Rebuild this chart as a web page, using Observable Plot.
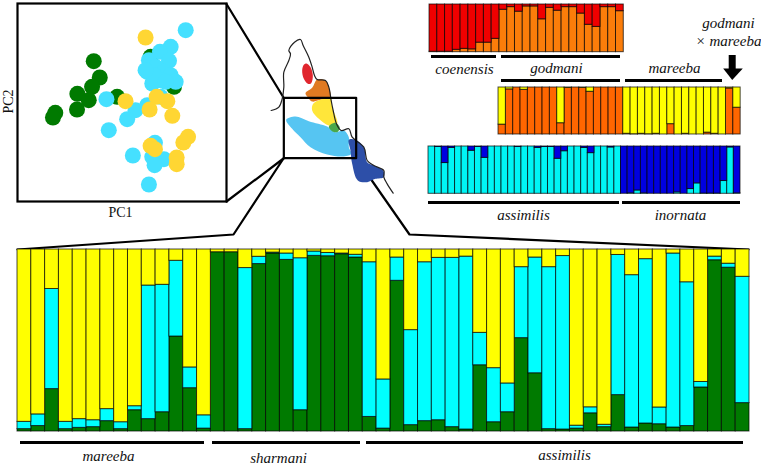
<!DOCTYPE html>
<html><head><meta charset="utf-8">
<script src="https://cdn.jsdelivr.net/npm/d3@7"></script>
<script src="https://cdn.jsdelivr.net/npm/@observablehq/plot@0.6"></script>
<style>
html,body{margin:0;padding:0;background:#fff}
#fig{position:relative;width:761px;height:466px;overflow:hidden}
#fig svg{position:absolute;background:transparent;max-width:none}
</style></head><body><div id="fig"></div>
<script>
// Main structure plot: cluster A (dark green), cluster B (cyan) shares, remainder is cluster C (yellow)
const mainGreen = [.013,.03,.233,.013,.02,.024,.057,.013,.117,.068,.106,.522,.238,.016,.985,.985,.013,.92,.978,.943,.117,.965,.963,.974,.956,.08,.016,.828,.035,.057,.062,.024,.011,.364,.051,.106,.513,.32,.013,.011,.016,.10,.024,.2,.022,.044,.04,.022,.03,.242,.941,.90,.156];
const mainCyan = [.04,.064,.55,.04,.048,.038,.066,.038,.022,.734,.70,.416,.114,.073,0,0,.885,.04,.005,.035,.835,.024,.018,.004,.015,.85,.27,.128,.522,.873,.892,.93,.95,.178,.297,.158,.39,.636,.89,.953,.016,.033,.013,.77,.837,.903,.092,.956,.79,.03,.02,.022,.694];
// Panel: coenensis / godmani
const topOrange = [.01,.01,.01,.05,.07,.06,.2,.2,.28,.89,.945,.85,.96,.96,.69,.93,.87,.945,.945,.81,.575,.53,.945,.945,.86];
// Panel: godmani / mareeba / hybrids
const midOrange = [.21,.96,1,.95,1,1,1,1,.24,.99,1,.99,.91,1,1,1,1,.015,.005,.015,.005,.015,0,.22,0,.015,0,0,.04,.015,0,.98,.57];
// Panel: assimilis / inornata
const lowCyan = [1,.99,.65,.97,1,1,.91,.99,.76,1,1,1,1,.99,1,1,.97,.99,.99,.74,.9,1,1,.97,.86,1,1,.98,1,0,.01,.07,.01,0,0,0,0,.03,0,.1,.22,.005,.005,.005,.27,.98,.01];
// PCA scores (arbitrary units)
const pcGreen = [[228,421],[246,372],[223,344],[179,323],[213,304],[178,276],[113,266],[106,252],[298,314],[398,434],[468,344]];
const pcCyan = [[503,514],[458,464],[426,449],[453,422],[393,424],[388,389],[413,404],[438,389],[458,379],[473,359],[403,354],[428,364],[408,379],[383,394],[443,359],[266,307],[353,274],[328,247],[273,214],[388,289],[428,314],[411,176],[345,138],[403,134],[438,127],[410,109],[393,51]];
const pcYellow = [[383,492],[323,301],[416,314],[448,301],[395,276],[463,257],[510,194],[496,177],[398,167],[411,157],[476,132],[476,112]];
// Map outlines (map units)
const coast = [[152,330],[175,320],[185,295],[190,260],[190,215],[205,180],[210,160],[205,150],[222,125],[240,117],[248,135],[265,170],[275,200],[282,225],[290,237],[315,240],[325,260],[332,300],[338,330],[348,370],[362,390],[385,385],[395,410],[430,440],[440,480],[460,495],[490,510],[490,530],[500,550],[518,578]];
const regionRed = [[258,189],[270,200],[277,225],[272,248],[262,250],[250,235],[245,210],[250,193]];
const regionOrange = [[255,278],[275,262],[290,237],[315,240],[325,260],[330,292],[300,298],[275,303],[262,290]];
const regionYellow = [[278,310],[300,298],[330,295],[335,320],[350,370],[325,375],[295,355],[275,330]];
const regionGreen = [[325,378],[345,367],[358,382],[350,395],[335,392]];
const regionBlue = [[197,358],[225,348],[265,362],[320,378],[345,395],[370,390],[385,410],[385,440],[393,460],[370,468],[320,462],[270,440],[240,410],[215,385]];
const regionNavy = [[385,418],[405,418],[430,440],[440,485],[460,495],[488,510],[490,530],[465,535],[440,545],[412,540],[395,490],[390,450]];
const studyBox = [[190,292],[407,292],[407,473],[190,473],[190,292]];
// Labels
const labels = [
  ["mareeba",108,456],["sharmani",278,458],["assimilis",564,455],
  ["coenensis",464,69],["godmani",556,68],["mareeba",674,68],
  ["assimilis",523,215],["inornata",680,215],
  ["godmani",728,23],["× mareeba",728,41]
];
const brackets = [[20,204,442],[212,360,442],[366,743,442],[431,496,56],[501,620,56],[501,620,80],[625,722,80],[428,619,202],[622,740,202]];
const connectors = [
  [[226,3.5],[283,97]],
  [[226,201],[283,158]],
  [[283,158],[233,234],[17,249]],
  [[356,158],[409,234],[748,249]]
];
const arrowHead = [[722.7,68],[742.3,68],[731.7,79.5]];
const serif = "'Liberation Serif','Times New Roman',serif";
const fig = document.getElementById("fig");

function place(svg,x,y){svg.style.left=x+"px";svg.style.top=y+"px";fig.appendChild(svg);}

// page-level annotation layer
const overlay = Plot.plot({
  width:761,height:466,margin:0,
  x:{domain:[0,761],axis:null},
  y:{domain:[466,0],axis:null},
  marks:[
    ...connectors.map(c=>Plot.line(c,{x:d=>d[0],y:d=>d[1],stroke:"#000",strokeWidth:2.2})),
    Plot.ruleY(brackets,{x1:d=>d[0],x2:d=>d[1],y:d=>d[2],stroke:"#000",strokeWidth:3}),
    Plot.ruleX([731.7],{y1:55,y2:69,stroke:"#000",strokeWidth:7}),
    Plot.line(arrowHead,{x:d=>d[0],y:d=>d[1],fill:"#000",stroke:"none"}),
    Plot.text(labels,{x:d=>d[1],y:d=>d[2],text:d=>d[0],fontFamily:serif,fontStyle:"italic",fontSize:15,fill:"#111"}),
    Plot.text(["PC1"],{x:120,y:212,text:d=>d,fontFamily:serif,fontSize:14,fill:"#111"}),
    Plot.text(["PC2"],{x:8,y:101,rotate:-90,text:d=>d,fontFamily:serif,fontSize:14,fill:"#111"})
  ]
});
place(overlay,0,0);

function structure(x0,y0,w,h,series,colors){
  const n = series[0].length;
  const names = series.map((_,k)=>"cluster"+k);
  const rows = [];
  series.forEach((vals,k)=>vals.forEach((v,i)=>rows.push({i,v,name:names[k]})));
  const svg = Plot.plot({
    width:w+2,height:h+2,margin:1,
    x:{type:"band",domain:d3.range(n),padding:0,round:false,axis:null},
    y:{domain:[0,1],axis:null},
    color:{type:"ordinal",domain:names,range:colors},
    marks:[
      Plot.barY(rows,{x:"i",y:"v",fill:"name",z:"name",stroke:"#000",strokeOpacity:.7,strokeWidth:1})
    ]
  });
  place(svg,x0-1,y0-1);
}
const rest = a => a.map(v=>1-v);
structure(16.7,248.7,732,182,[mainGreen,mainCyan,mainGreen.map((g,i)=>1-g-mainCyan[i])],["#007a00","#00ffff","#ffff00"]);
structure(428.7,4,194.3,47.7,[topOrange,rest(topOrange)],["#fb7d0a","#f00000"]);
structure(498.3,87.3,242.2,47,[midOrange,rest(midOrange)],["#ff6600","#ffff00"]);
structure(428.3,146,312,47.3,[lowCyan,rest(lowCyan)],["#00f5f5","#0000e0"]);

// PCA
const pca = Plot.plot({
  width:213,height:202,margin:2,
  x:{domain:[0,625],axis:null},
  y:{domain:[0,594],axis:null},
  marks:[
    Plot.dot(pcGreen,{x:d=>d[0],y:d=>d[1],r:8,fill:"#007a00"}),
    Plot.dot(pcCyan,{x:d=>d[0],y:d=>d[1],r:8,fill:"#45e0ff"}),
    Plot.dot(pcYellow,{x:d=>d[0],y:d=>d[1],r:8,fill:"#ffd633"}),
    Plot.frame({stroke:"#000",strokeWidth:2.2})
  ]
});
place(pca,15,1.3);

// Map
const region = (pts,c)=>Plot.line(pts,{x:d=>d[0],y:d=>d[1],fill:c,stroke:"none",curve:"catmull-rom-closed"});
const map = Plot.plot({
  width:210,height:240,margin:0,
  x:{domain:[0,630],axis:null},
  y:{domain:[720,0],axis:null},
  marks:[
    region(regionRed,"#e0262e"),
    region(regionOrange,"#e07a22"),
    region(regionYellow,"#ffe63a"),
    region(regionBlue,"#56c5f2"),
    region(regionGreen,"#4aa84a"),
    region(regionNavy,"#2d4fa8"),
    Plot.line(coast,{x:d=>d[0],y:d=>d[1],stroke:"#222",strokeWidth:1.2,curve:"catmull-rom"}),
    Plot.line(studyBox,{x:d=>d[0],y:d=>d[1],stroke:"#000",strokeWidth:2.2})
  ]
});
place(map,220,0);
</script></body></html>
